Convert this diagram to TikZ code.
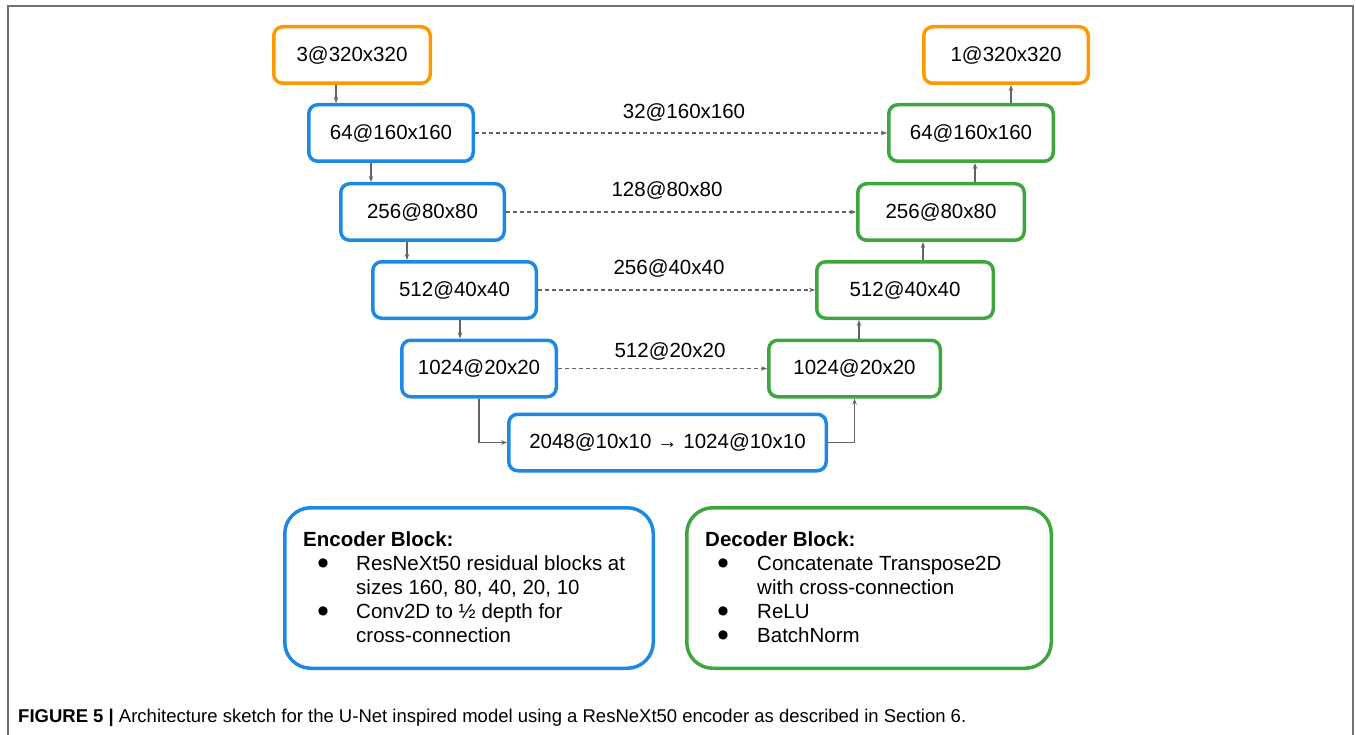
\documentclass[tikz,border=0pt]{standalone}
\usepackage{fontspec}
\setmainfont{Liberation Sans}
\newfontfamily\bulletfont{DejaVu Sans}
\usetikzlibrary{arrows.meta}
\definecolor{encblue}{RGB}{30,136,229}
\definecolor{decgreen}{RGB}{62,166,62}
\definecolor{iorange}{RGB}{255,152,0}
\definecolor{linegray}{RGB}{100,100,100}
\definecolor{framegray}{RGB}{112,112,112}
\newcommand{\boxfont}{\fontsize{20.5}{24}\selectfont}
\newcommand{\blt}{{\bulletfont\fontsize{12}{12}\selectfont ●}}
\tikzset{
  layer/.style={draw, line width=3.5pt, rounded corners=9pt, minimum height=56.5pt, inner sep=0pt, font=\boxfont, fill=white},
  encbox/.style={layer, draw=encblue},
  decbox/.style={layer, draw=decgreen},
  iobox/.style={layer, draw=iorange},
  flow/.style={draw=linegray, line width=1.1pt, -{Stealth[length=6pt,width=4.5pt]}},
  skip/.style={flow, dash pattern=on 4pt off 3pt},
  sizelabel/.style={font=\boxfont, inner sep=0pt},
  legendbox/.style={draw, line width=3.5pt, rounded corners=26pt, minimum height=160.5pt, inner sep=0pt},
  legtext/.style={anchor=base west, font=\boxfont, inner sep=0pt},
  legbullet/.style={inner sep=0pt}
}
\begin{document}
\begin{tikzpicture}[x=1pt, y=-1pt]
  \useasboundingbox (0,0) rectangle (1356,735);
  \draw [framegray, line width=1.5pt] (8,735) -- (8,6) -- (1353,6) -- (1353,735);   % page frame

  % encoder side
  \node [iobox, minimum width=156.5pt] (in) at (352,55) {3@320x320};
  \node [encbox, minimum width=164.5pt] (enc1) at (391,133) {64@160x160};
  \node [encbox, minimum width=163.5pt] (enc2) at (422.5,212) {256@80x80};
  \node [encbox, minimum width=163.5pt] (enc3) at (454.5,290) {512@40x40};
  \node [encbox, minimum width=154.5pt] (enc4) at (479,368.5) {1024@20x20};
  \node [encbox, minimum width=317.5pt] (neck) at (667.5,442.5) {2048@10x10 → 1024@10x10};

  % decoder side
  \node [decbox, minimum width=171.5pt] (dec4) at (854.5,368.5) {1024@20x20};
  \node [decbox, minimum width=176.5pt] (dec3) at (905,290) {512@40x40};
  \node [decbox, minimum width=166.5pt] (dec2) at (941,212) {256@80x80};
  \node [decbox, minimum width=164.5pt] (dec1) at (971,133) {64@160x160};
  \node [iobox, minimum width=164.5pt] (out) at (1006,55) {1@320x320};

  % down path
  \draw [flow] (in.south -| 336,0) -- (enc1.north -| 336,0);
  \draw [flow] (enc1.south -| 371,0) -- (enc2.north -| 371,0);
  \draw [flow] (enc2.south -| 407,0) -- (enc3.north -| 407,0);
  \draw [flow] (enc3.south -| 460,0) -- (enc4.north -| 460,0);
  \draw [flow] (enc4.south) |- (neck.west);

  % up path
  \draw [flow] (neck.east) -| (dec4.south);
  \draw [flow] (dec4.north -| 859,0) -- (dec3.south -| 859,0);
  \draw [flow] (dec3.north -| 923,0) -- (dec2.south -| 923,0);
  \draw [flow] (dec2.north -| 975,0) -- (dec1.south -| 975,0);
  \draw [flow] (dec1.north -| 1011,0) -- (out.south -| 1011,0);

  % cross connections
  \draw [skip] (enc1.east) -- (dec1.west);
  \draw [skip] (enc2.east) -- (dec2.west);
  \draw [skip] (enc3.east) -- (dec3.west);
  \draw [skip] (enc4.east) -- (dec4.west);
  \node [sizelabel] (skip1) at (684,112) {32@160x160};
  \node [sizelabel] (skip2) at (667,190) {128@80x80};
  \node [sizelabel] (skip3) at (669,268) {256@40x40};
  \node [sizelabel] (skip4) at (670,351) {512@20x20};

  % legend: encoder
  \node [legendbox, draw=encblue, minimum width=368.5pt] (enclegend) at (469,588) {};
  \node [legtext, font=\boxfont\bfseries] (enctitle) at (303,546) {Encoder Block:};
  \node [legbullet] at (323,563) {\blt};
  \node [legtext] at (356,570) {ResNeXt50 residual blocks at};
  \node [legtext] at (356,594) {sizes 160, 80, 40, 20, 10};
  \node [legbullet] at (323,611) {\blt};
  \node [legtext] at (356,618) {Conv2D to ½ depth for};
  \node [legtext] at (356,642) {cross-connection};

  % legend: decoder
  \node [legendbox, draw=decgreen, minimum width=364.5pt] (declegend) at (869,588) {};
  \node [legtext, font=\boxfont\bfseries] (dectitle) at (705,546) {Decoder Block:};
  \node [legbullet] at (723,563) {\blt};
  \node [legtext] at (757,570) {Concatenate Transpose2D};
  \node [legtext] at (757,594) {with cross-connection};
  \node [legbullet] at (723,611) {\blt};
  \node [legtext] at (757,618) {ReLU};
  \node [legbullet] at (723,635) {\blt};
  \node [legtext] at (757,642) {BatchNorm};

  % caption
  \node [anchor=base west, inner sep=0pt, font=\fontsize{18.5}{22}\selectfont] (caption) at (18,722)
    {\textbf{FIGURE 5 |} Architecture sketch for the U-Net inspired model using a ResNeXt50 encoder as described in Section 6.};
\end{tikzpicture}
\end{document}
